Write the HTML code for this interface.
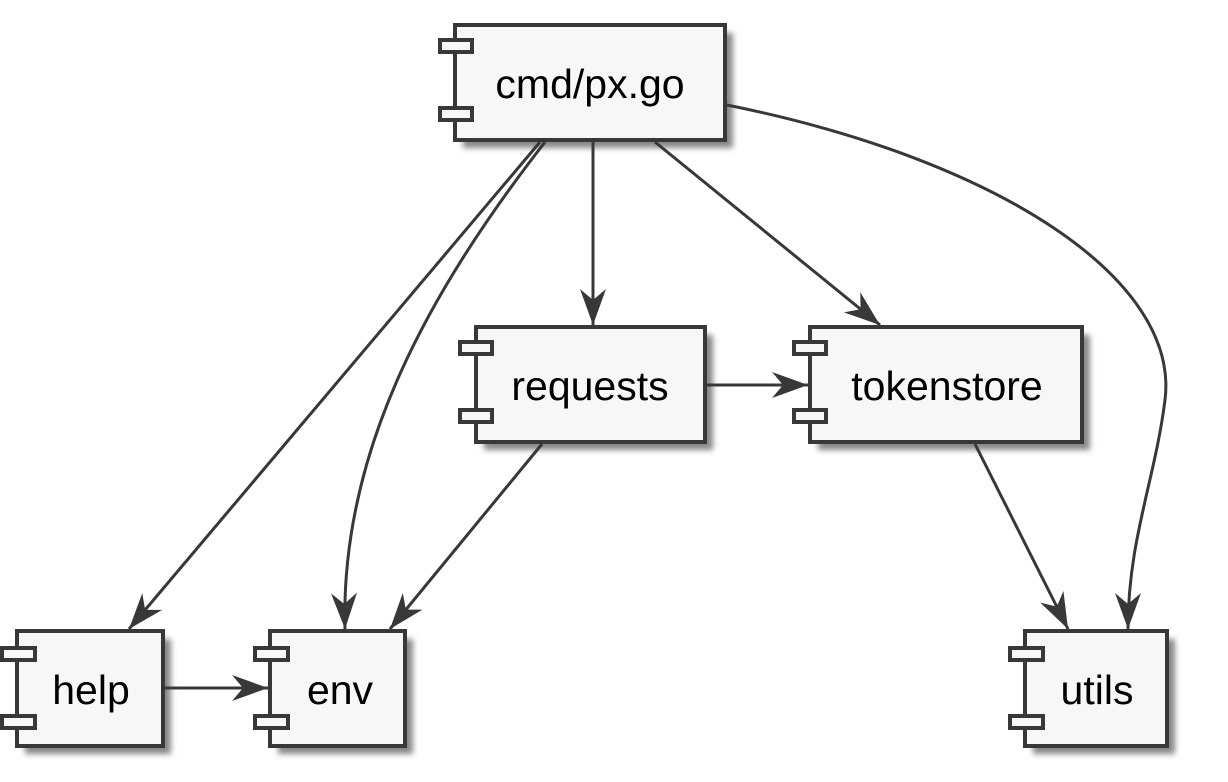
<!DOCTYPE html>
<html><head><style>
html,body{margin:0;padding:0;background:#fff;}
svg text{font-family:"Liberation Sans",sans-serif;font-size:41px;fill:#000;}
</style></head><body>
<svg width="1228" height="777" viewBox="0 0 1228 777" xmlns="http://www.w3.org/2000/svg">
<defs>
<filter id="sh" x="-10%" y="-10%" width="130%" height="140%"><feGaussianBlur stdDeviation="3"/></filter>
<marker id="ar" markerWidth="40" markerHeight="28" refX="36" refY="13" orient="auto" markerUnits="userSpaceOnUse">
<path d="M0,0 L36,13 L0,26 L11,13 Z" fill="#383838"/>
</marker>
</defs>
<g id="boxes">
<g>
<rect x="463" y="33" width="270" height="115" fill="#888" filter="url(#sh)"/>
<rect x="455" y="25" width="270" height="115" fill="#f7f7f7" stroke="#383838" stroke-width="4"/>
<rect x="440" y="40" width="32" height="12" fill="#f7f7f7" stroke="#383838" stroke-width="4"/>
<rect x="440" y="108" width="32" height="12" fill="#f7f7f7" stroke="#383838" stroke-width="4"/>
<text x="590" y="98" text-anchor="middle">cmd/px.go</text>
</g>
<g>
<rect x="484" y="335" width="229" height="115" fill="#888" filter="url(#sh)"/>
<rect x="476" y="327" width="229" height="115" fill="#f7f7f7" stroke="#383838" stroke-width="4"/>
<rect x="460" y="342" width="32" height="12" fill="#f7f7f7" stroke="#383838" stroke-width="4"/>
<rect x="460" y="410" width="32" height="12" fill="#f7f7f7" stroke="#383838" stroke-width="4"/>
<text x="590" y="400" text-anchor="middle">requests</text>
</g>
<g>
<rect x="818" y="335" width="272" height="115" fill="#888" filter="url(#sh)"/>
<rect x="810" y="327" width="272" height="115" fill="#f7f7f7" stroke="#383838" stroke-width="4"/>
<rect x="794" y="342" width="32" height="12" fill="#f7f7f7" stroke="#383838" stroke-width="4"/>
<rect x="794" y="410" width="32" height="12" fill="#f7f7f7" stroke="#383838" stroke-width="4"/>
<text x="947" y="400" text-anchor="middle">tokenstore</text>
</g>
<g>
<rect x="25" y="639" width="146" height="115" fill="#888" filter="url(#sh)"/>
<rect x="17" y="631" width="146" height="115" fill="#f7f7f7" stroke="#383838" stroke-width="4"/>
<rect x="2" y="648" width="33" height="12" fill="#f7f7f7" stroke="#383838" stroke-width="4"/>
<rect x="2" y="716" width="33" height="12" fill="#f7f7f7" stroke="#383838" stroke-width="4"/>
<text x="91" y="704" text-anchor="middle">help</text>
</g>
<g>
<rect x="278" y="639" width="135" height="115" fill="#888" filter="url(#sh)"/>
<rect x="270" y="631" width="135" height="115" fill="#f7f7f7" stroke="#383838" stroke-width="4"/>
<rect x="255" y="648" width="33" height="12" fill="#f7f7f7" stroke="#383838" stroke-width="4"/>
<rect x="255" y="716" width="33" height="12" fill="#f7f7f7" stroke="#383838" stroke-width="4"/>
<text x="340" y="704" text-anchor="middle">env</text>
</g>
<g>
<rect x="1033" y="639" width="142" height="115" fill="#888" filter="url(#sh)"/>
<rect x="1025" y="631" width="142" height="115" fill="#f7f7f7" stroke="#383838" stroke-width="4"/>
<rect x="1010" y="648" width="33" height="12" fill="#f7f7f7" stroke="#383838" stroke-width="4"/>
<rect x="1010" y="716" width="33" height="12" fill="#f7f7f7" stroke="#383838" stroke-width="4"/>
<text x="1097" y="704" text-anchor="middle">utils</text>
</g>
</g>
<g fill="none" stroke="#383838" stroke-width="3" marker-end="url(#ar)">
<path d="M540,142 L129,629"/>
<path d="M545,142 C430,290 340,450 345,629"/>
<path d="M593,142 L593,325"/>
<path d="M655,142 L880,325"/>
<path d="M727,105 C1000,160 1180,280 1165,400 C1155,480 1128,540 1128,629"/>
<path d="M705,385 L808,385"/>
<path d="M542,444 L390,629"/>
<path d="M975,444 L1068,629"/>
<path d="M163,688 L268,688"/>
</g>
</svg>
</body></html>
